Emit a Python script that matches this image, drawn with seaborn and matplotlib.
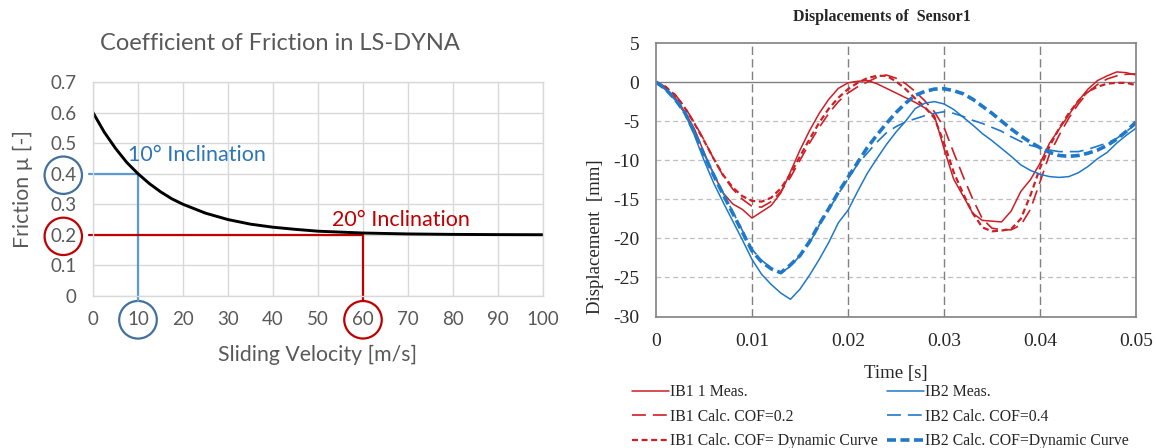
import matplotlib
matplotlib.use("Agg")
import matplotlib.pyplot as plt
import seaborn as sns

# ---- left chart: LS-DYNA friction curve
velocity = [0, 2.5, 5, 7.5, 10, 12.5, 15, 17.5, 20, 25, 30, 35, 40, 45, 50, 55, 60, 70, 80, 90, 100]
friction = [0.600, 0.536, 0.483, 0.437, 0.400, 0.368, 0.341, 0.318, 0.300, 0.271, 0.250,
            0.235, 0.225, 0.218, 0.212, 0.209, 0.206, 0.203, 0.2015, 0.2008, 0.2004]
vel_ticks = [0, 10, 20, 30, 40, 50, 60, 70, 80, 90, 100]
vel_labels = ["0", "10", "20", "30", "40", "50", "60", "70", "80", "90", "100"]
mu_ticks = [0, 0.1, 0.2, 0.3, 0.4, 0.5, 0.6, 0.7]
mu_labels = ["0", "0.1", "0.2", "0.3", "0.4", "0.5", "0.6", "0.7"]
incl_velocity = [10, 60]
incl_friction = [0.4, 0.2]
incl_labels = ["10° Inclination", "20° Inclination"]

# ---- right chart: displacement of sensor 1, time in ms
time_ms = [0, 1, 2, 3, 4, 5, 6, 7, 8, 9, 10, 11, 12, 13, 14, 15, 16, 17, 18, 19, 20,
           21, 22, 23, 24, 25, 26, 27, 28, 29, 30, 31, 32, 33, 34, 35, 36, 37, 38, 39, 40,
           41, 42, 43, 44, 45, 46, 47, 48, 49, 50]
ib1_meas = [0, -0.8, -2.0, -3.8, -6.0, -9.0, -11.8, -14.2, -15.6, -16.3, -17.4, -16.6, -15.8,
            -14.2, -11.5, -8.7, -6.2, -4.0, -2.2, -0.8, -0.1, 0.1, 0.2, -0.2, -0.8, -1.4,
            -2.0, -2.6, -3.3, -4.3, -8.5, -12.4, -14.6, -16.8, -17.7, -17.8, -17.9, -16.5,
            -14.0, -12.5, -10.4, -7.8, -6.0, -4.2, -2.4, -0.9, 0.2, 0.8, 1.3, 1.2, 0.9]
ib1_cof02 = [0, -0.6, -1.6, -3.2, -5.2, -7.4, -9.8, -12.0, -13.7, -15.0, -15.9, -16.0, -15.3,
             -14.0, -12.2, -10.0, -7.8, -5.8, -4.0, -2.5, -1.4, -0.6, 0.0, 0.6, 0.9, 0.5,
             -0.2, -1.2, -2.4, -3.8, -5.8, -9.0, -12.1, -15.0, -17.5, -18.7, -18.9, -18.9,
             -18.3, -16.3, -12.8, -9.2, -6.8, -4.6, -2.8, -1.3, -0.3, 0.4, 0.8, 1.0, 1.05]
ib1_dyn = [0, -0.6, -1.7, -3.3, -5.3, -7.5, -9.8, -11.9, -13.5, -14.6, -15.2, -15.3, -14.8,
           -13.6, -11.8, -9.5, -7.3, -5.2, -3.4, -2.0, -0.9, -0.1, 0.5, 0.8, 0.8, 0.1,
           -0.9, -2.1, -3.2, -4.6, -7.8, -11.5, -14.3, -16.8, -18.6, -19.1, -19.0, -18.8,
           -17.5, -14.5, -11.0, -8.2, -5.9, -4.0, -2.4, -1.2, -0.6, -0.2, -0.1, -0.1, -0.4]
ib2_meas = [0, -1.0, -2.3, -4.0, -6.8, -10.0, -12.9, -15.4, -17.8, -20.2, -22.7, -24.6, -25.9,
            -27.0, -27.8, -26.5, -24.7, -22.7, -20.5, -18.0, -16.4, -14.0, -11.7, -9.8, -8.0,
            -6.4, -5.0, -3.4, -2.7, -2.5, -2.8, -3.5, -4.5, -5.5, -6.6, -7.5, -8.5, -9.5,
            -10.6, -11.3, -11.8, -12.1, -12.2, -12.1, -11.6, -10.8, -9.8, -9.0, -7.8, -6.8, -5.9]
ib2_cof04 = [0, -0.9, -2.2, -3.9, -6.4, -9.2, -11.7, -14.2, -16.6, -19.0, -21.4, -22.8, -23.8,
             -24.4, -23.6, -22.2, -20.6, -18.3, -16.3, -14.3, -12.4, -10.5, -9.1, -7.7, -6.5,
             -5.7, -5.1, -4.7, -4.3, -4.0, -3.8, -4.0, -4.4, -4.9, -5.3, -5.8, -6.3, -7.0,
             -7.6, -8.1, -8.4, -8.7, -8.9, -8.9, -8.9, -8.6, -8.2, -7.8, -7.2, -6.3, -5.4]
ib2_dyn = [0, -0.9, -2.2, -3.9, -6.4, -9.3, -11.9, -14.4, -16.8, -19.2, -21.6, -23.0, -23.9,
           -24.4, -23.4, -22.2, -20.4, -18.2, -16.2, -14.1, -12.2, -10.3, -8.4, -6.8, -5.3,
           -3.9, -2.7, -1.7, -1.2, -0.9, -0.85, -1.1, -1.5, -2.2, -3.1, -4.0, -5.0, -6.0,
           -6.9, -7.7, -8.4, -9.0, -9.4, -9.5, -9.4, -9.1, -8.7, -8.1, -7.3, -6.3, -5.1]
t_ticks = [0, 0.01, 0.02, 0.03, 0.04, 0.05]
t_labels = ["0", "0.01", "0.02", "0.03", "0.04", "0.05"]
d_ticks = [-30, -25, -20, -15, -10, -5, 0, 5]
d_labels = ["-30", "-25", "-20", "-15", "-10", "-5", "0", "5"]
series_labels = ["IB1 1 Meas.", "IB1 Calc. COF=0.2", "IB1 Calc. COF= Dynamic Curve",
                 "IB2 Meas.", "IB2 Calc. COF=0.4", "IB2 Calc. COF=Dynamic Curve"]

sns.set_style("white")
plt.rcParams["lines.scale_dashes"] = False

RED = "#C00000"
BLUE_LINE = "#5B9BD5"
BLUE_RING = "#41719C"
BLUE_TEXT = "#2E75B6"
GREY_TXT = "#595959"
C_RED = "#CC1F26"
C_BLUE = "#1F78C8"

fig = plt.figure(figsize=(11.56, 4.48), dpi=100)

# ---------------- left chart ----------------
ax1 = fig.add_axes([93 / 1156, 1 - 296 / 448, 450 / 1156, 214 / 448])
sans = "Lato"
sns.lineplot(x=velocity, y=friction, ax=ax1, color="black", linewidth=2.1)
ax1.set_xlim(0, 100)
ax1.set_ylim(0, 0.7)
ax1.set_xticks(vel_ticks, vel_labels)
ax1.set_yticks(mu_ticks, mu_labels)
ax1.grid(True, color="#D9D9D9", linewidth=1)
ax1.set_axisbelow(True)
for s in ax1.spines.values():
    s.set_color("#D9D9D9")
    s.set_linewidth(1)
ax1.tick_params(length=0, labelsize=13.5, labelcolor=GREY_TXT)
ax1.tick_params(axis="y", pad=12)
ax1.tick_params(axis="x", pad=11)
for lab in ax1.get_xticklabels() + ax1.get_yticklabels():
    lab.set_family(sans)
ax1.set_xlabel("Sliding Velocity [m/s]", fontsize=15.3, color=GREY_TXT, family=sans, labelpad=12)
ax1.set_ylabel("Friction µ [-]", fontsize=15.3, color=GREY_TXT, family=sans, labelpad=12)
fig.text(280 / 1156, 1 - 43 / 448, "Coefficient of Friction in LS-DYNA", ha="center",
         va="center", fontsize=17, color=GREY_TXT, family=sans)

# inclination guide lines
line_cols = [BLUE_LINE, RED]
ring_cols = [BLUE_RING, RED]
text_cols = [BLUE_TEXT, RED]
offsets = [(-7, 13.5), (-22, 10.5)]
for v, m, lab, lc, tc, off in zip(incl_velocity, incl_friction, incl_labels,
                                  line_cols, text_cols, offsets):
    ax1.plot([-0.9, v], [m, m], color=lc, linewidth=1.6, clip_on=False, zorder=1)
    ax1.plot([v, v], [m, -0.015], color=lc, linewidth=1.6, clip_on=False, zorder=1)
    ax1.annotate(lab, (v, m), xytext=off, textcoords="offset points", ha="left",
                 va="center", fontsize=15.5, color=tc, family=sans)

# rings around the matching tick labels
fig.canvas.draw()
xl = ax1.get_xticklabels()
yl = ax1.get_yticklabels()
for v, m, rc in zip(incl_velocity, incl_friction, ring_cols):
    xi = vel_ticks.index(v)
    yi = mu_ticks.index(m)
    xl[xi].set_bbox(dict(boxstyle="circle,pad=0.42", fc="none", ec=rc, lw=1.6))
    yl[yi].set_bbox(dict(boxstyle="circle,pad=0.3", fc="none", ec=rc, lw=1.6))

# ---------------- right chart ----------------
ax2 = fig.add_axes([656 / 1156, 1 - 316.5 / 448, 480 / 1156, 273.5 / 448])
serif = "Liberation Serif"
time_s = [t / 1000 for t in time_ms]
styles = [
    (ib1_meas, C_RED, "-", 1.1),
    (ib1_cof02, C_RED, (0, (10, 5)), 1.2),
    (ib1_dyn, C_RED, (0, (4.3, 2.6)), 1.6),
    (ib2_meas, C_BLUE, "-", 1.1),
    (ib2_cof04, C_BLUE, (0, (10, 5)), 1.2),
    (ib2_dyn, C_BLUE, (0, (6.5, 3.2)), 2.6),
]
handles = []
for ys, col, ls, lw in styles:
    sns.lineplot(x=time_s, y=ys, ax=ax2, color=col, linestyle=ls, linewidth=lw,
                 sort=False, estimator=None)
    handles.append(ax2.lines[-1])

ax2.set_xlim(0, 0.05)
ax2.set_ylim(-30, 5)
ax2.set_xticks(t_ticks, t_labels)
ax2.set_yticks(d_ticks, d_labels)
for y in d_ticks[1:6]:
    ax2.axhline(y, color="#BFBFBF", linewidth=0.9, linestyle=(0, (3.5, 2.5)), zorder=0)
for t in t_ticks[1:5]:
    ax2.axvline(t, color="#808080", linewidth=1.0, linestyle=(0, (6, 3)), zorder=0)
ax2.axhline(0, color="#808080", linewidth=1.0, zorder=0)
for s in ax2.spines.values():
    s.set_color("#808080")
    s.set_linewidth(1.2)
ax2.tick_params(axis="y", length=4, width=1, color="#808080", pad=8, labelsize=14)
ax2.tick_params(axis="x", length=0, pad=12, labelsize=14)
for lab in ax2.get_xticklabels() + ax2.get_yticklabels():
    lab.set_family(serif)
ax2.set_xlabel("Time [s]", fontsize=13.5, family=serif, labelpad=11)
ax2.set_ylabel("Displacement  [mm]", fontsize=13.5, family=serif)
ax2.yaxis.set_label_coords(-0.108, 0.29)
fig.text(882 / 1156, 1 - 17 / 448, "Displacements of  Sensor1", ha="center", va="center",
         fontsize=11.5, fontweight="bold", family=serif)

leg_kw = dict(loc="upper left", frameon=False, borderpad=0, borderaxespad=0,
              handlelength=2.35, handletextpad=0.1, labelspacing=0.55,
              prop={"family": serif, "size": 11.3})
fig.legend(handles=handles[:3], labels=series_labels[:3],
           bbox_to_anchor=(632 / 1156, 1 - 384 / 448), **leg_kw)
fig.legend(handles=handles[3:], labels=series_labels[3:],
           bbox_to_anchor=(887 / 1156, 1 - 384 / 448), **leg_kw)

fig.savefig("out.png", dpi=100)
